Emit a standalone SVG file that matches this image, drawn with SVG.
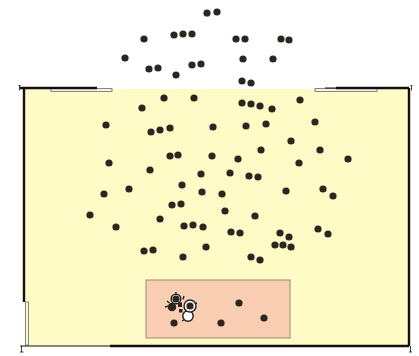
<svg xmlns="http://www.w3.org/2000/svg" width="419" height="356" viewBox="0 0 419 356">
<style>
.d{fill:#2b2620}
.w{fill:#fff;stroke:#2b2620;stroke-width:1.5}
.wall{stroke:#111;fill:none}
.door{fill:#f2f2ec;stroke:#7a7a74;stroke-width:0.9}
circle.d{r:3.6px}
</style>
<rect width="419" height="356" fill="#fff"/>
<g id="room">
<rect x="24" y="89" width="385" height="257" fill="#fffbc6"/>
<rect x="146" y="280" width="144" height="58" fill="#f9ceb2" stroke="#9c8a72" stroke-width="1"/>
</g>
<g id="walls">
<rect class="door" x="51" y="88.5" width="61" height="3"/>
<rect class="door" x="315" y="88.5" width="62" height="3"/>
<rect class="door" x="25.5" y="302" width="3" height="43"/>
<path class="wall" stroke-width="2.4" d="M20 88 H97"/>
<path class="wall" stroke-width="2.4" d="M336 88 H409"/>
<path class="wall" stroke-width="1" d="M325 88 H336"/>
<path class="wall" stroke-width="2.4" d="M24 88 V302"/>
<path class="wall" stroke-width="2.4" d="M409 88 V346"/>
<path class="wall" stroke-width="1.2" d="M20 346 H110"/>
<path class="wall" stroke-width="2.4" d="M110 346 H409"/>
<path class="wall" stroke-width="0.8" d="M19.5 85.5 V90.5 M18.5 85.5 H20.5 M411.5 85.5 V90.5 M410.5 85.5 H412.5 M21.5 346 V352 M20 352 H23.5 M410.5 346 V352 M409 352 H412"/>
</g>
<g id="crowd">
<circle class="d" cx="207" cy="13" r="3.6"/><circle class="d" cx="217" cy="12" r="3.6"/>
<circle class="d" cx="144" cy="39" r="3.6"/>
<circle class="d" cx="174" cy="35" r="3.6"/><circle class="d" cx="183" cy="34" r="3.6"/><circle class="d" cx="192" cy="34" r="3.6"/>
<circle class="d" cx="236" cy="39" r="3.6"/><circle class="d" cx="245" cy="39" r="3.6"/>
<circle class="d" cx="281" cy="39" r="3.6"/><circle class="d" cx="289" cy="40" r="3.6"/>
<circle class="d" cx="125" cy="58" r="3.6"/>
<circle class="d" cx="149" cy="69" r="3.6"/><circle class="d" cx="158" cy="68" r="3.6"/>
<circle class="d" cx="176" cy="75" r="3.6"/>
<circle class="d" cx="192" cy="65" r="3.6"/><circle class="d" cx="201" cy="64" r="3.6"/>
<circle class="d" cx="243" cy="59" r="3.6"/>
<circle class="d" cx="273" cy="59" r="3.6"/>
<circle class="d" cx="242" cy="81" r="3.6"/><circle class="d" cx="251" cy="83" r="3.6"/>
<circle class="d" cx="164" cy="98" r="3.6"/><circle class="d" cx="194" cy="98" r="3.6"/>
<circle class="d" cx="142" cy="108" r="3.6"/>
<circle class="d" cx="242" cy="103" r="3.6"/><circle class="d" cx="251" cy="104" r="3.6"/><circle class="d" cx="260" cy="106" r="3.6"/><circle class="d" cx="272" cy="109" r="3.6"/>
<circle class="d" cx="300" cy="100" r="3.6"/>
<circle class="d" cx="106" cy="125" r="3.6"/>
<circle class="d" cx="151" cy="132" r="3.6"/><circle class="d" cx="160" cy="130" r="3.6"/><circle class="d" cx="170" cy="128" r="3.6"/>
<circle class="d" cx="213" cy="127" r="3.6"/>
<circle class="d" cx="246" cy="126" r="3.6"/>
<circle class="d" cx="266" cy="124" r="3.6"/>
<circle class="d" cx="315" cy="122" r="3.6"/>
<circle class="d" cx="291" cy="141" r="3.6"/>
<circle class="d" cx="170" cy="156" r="3.6"/><circle class="d" cx="178" cy="155" r="3.6"/>
<circle class="d" cx="212" cy="156" r="3.6"/>
<circle class="d" cx="261" cy="150" r="3.6"/>
<circle class="d" cx="238" cy="159" r="3.6"/>
<circle class="d" cx="320" cy="150" r="3.6"/>
<circle class="d" cx="299" cy="163" r="3.6"/>
<circle class="d" cx="348" cy="159" r="3.6"/>
<circle class="d" cx="109" cy="163" r="3.6"/>
<circle class="d" cx="150" cy="170" r="3.6"/>
<circle class="d" cx="201" cy="174" r="3.6"/>
<circle class="d" cx="230" cy="173" r="3.6"/>
<circle class="d" cx="249" cy="176" r="3.6"/><circle class="d" cx="258" cy="177" r="3.6"/>
<circle class="d" cx="182" cy="185" r="3.6"/>
<circle class="d" cx="129" cy="189" r="3.6"/>
<circle class="d" cx="104" cy="194" r="3.6"/>
<circle class="d" cx="202" cy="192" r="3.6"/>
<circle class="d" cx="222" cy="194" r="3.6"/>
<circle class="d" cx="286" cy="191" r="3.6"/>
<circle class="d" cx="323" cy="189" r="3.6"/><circle class="d" cx="333" cy="196" r="3.6"/>
<circle class="d" cx="172" cy="205" r="3.6"/><circle class="d" cx="181" cy="204" r="3.6"/>
<circle class="d" cx="90" cy="215" r="3.6"/>
<circle class="d" cx="160" cy="219" r="3.6"/>
<circle class="d" cx="225" cy="211" r="3.6"/>
<circle class="d" cx="255" cy="216" r="3.6"/>
<circle class="d" cx="116" cy="227" r="3.6"/>
<circle class="d" cx="184" cy="226" r="3.6"/><circle class="d" cx="193" cy="225" r="3.6"/><circle class="d" cx="203" cy="227" r="3.6"/>
<circle class="d" cx="231" cy="232" r="3.6"/><circle class="d" cx="240" cy="233" r="3.6"/>
<circle class="d" cx="280" cy="233" r="3.6"/><circle class="d" cx="289" cy="237" r="3.6"/>
<circle class="d" cx="275" cy="245" r="3.6"/><circle class="d" cx="283" cy="245" r="3.6"/><circle class="d" cx="291" cy="247" r="3.6"/>
<circle class="d" cx="318" cy="229" r="3.6"/><circle class="d" cx="328" cy="234" r="3.6"/>
<circle class="d" cx="206" cy="247" r="3.6"/>
<circle class="d" cx="144" cy="251" r="3.6"/><circle class="d" cx="153" cy="250" r="3.6"/>
<circle class="d" cx="183" cy="257" r="3.6"/>
<circle class="d" cx="251" cy="257" r="3.6"/><circle class="d" cx="260" cy="260" r="3.6"/>
</g>
<g id="zone">
<circle class="d" cx="239" cy="303" r="3.6"/>
<circle class="d" cx="264" cy="318" r="3.6"/>
<circle class="d" cx="221" cy="323" r="3.6"/>
<circle class="d" cx="174" cy="323" r="3.6"/>
<path d="M165 307 l3.5 -1 M167 301 l2.5 2 M184 296 l-1 3.5 M197 303 l-2.5 1 M182 321 l2.5 -1.5 M176 292 v2.5" stroke="#2b2620" stroke-width="1.4"/>
<circle class="w" cx="172" cy="307" r="3.5"/>
<circle class="w" cx="176" cy="299" r="4.8"/>
<circle class="w" cx="188" cy="316" r="5.2"/>
<circle class="w" cx="190" cy="306" r="6"/>
<circle class="d" cx="176" cy="299" r="1.8"/>
<circle class="d" cx="190" cy="306" r="2"/>
<circle class="d" cx="172" cy="307" r="1.3"/>
<rect class="d" x="178" y="302.5" width="4" height="4.5"/>
<rect class="d" x="179" y="309" width="3.5" height="3.5"/>
</g>
</svg>
